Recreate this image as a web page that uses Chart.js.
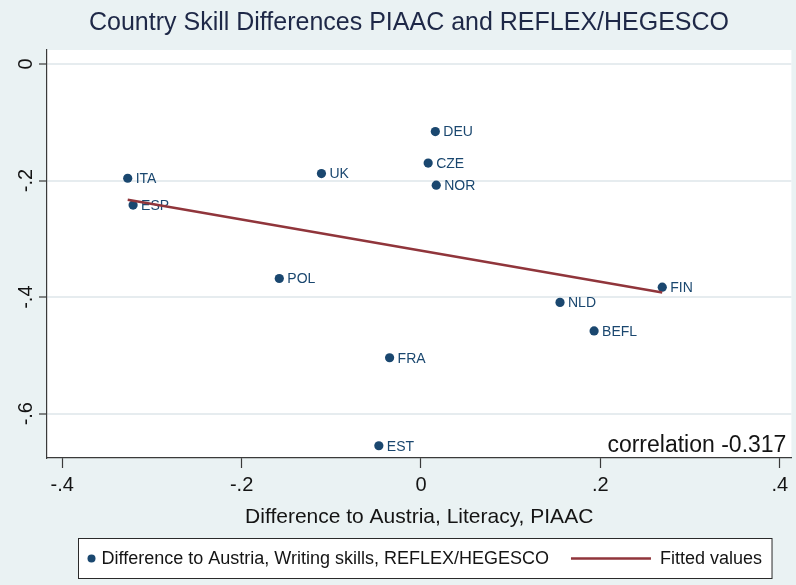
<!DOCTYPE html>
<html>
<head>
<meta charset="utf-8">
<title>Country Skill Differences PIAAC and REFLEX/HEGESCO</title>
<script src="https://cdn.jsdelivr.net/npm/chart.js@4.4.1/dist/chart.umd.min.js"></script>
<style>
  html, body { margin: 0; padding: 0; background: #EAF2F3; }
  canvas { display: block; }
</style>
</head>
<body>
<canvas id="chart" width="796" height="585"></canvas>
<script>
// Country codes and their skill differences relative to Austria
const countries    = ['ITA', 'ESP', 'UK', 'POL', 'DEU', 'CZE', 'NOR', 'FIN', 'NLD', 'BEFL', 'FRA', 'EST'];
const literacyDiff = [-0.327, -0.321, -0.111, -0.158, 0.016, 0.008, 0.017, 0.269, 0.155, 0.193, -0.035, -0.047];
const writingDiff  = [-0.196, -0.242, -0.188, -0.368, -0.116, -0.170, -0.208, -0.383, -0.409, -0.458, -0.504, -0.655];

// Linear fit, evaluated at the smallest and largest literacy difference
const fittedX = [-0.327, 0.269];
const fittedY = [-0.233, -0.392];
const correlation = -0.317;

// Axis ticks
const xTickValues = [-0.4, -0.2, 0, 0.2, 0.4];
const xTickLabels = ['-.4', '-.2', '0', '.2', '.4'];
const yTickValues = [0, -0.2, -0.4, -0.6];
const yTickLabels = ['0', '-.2', '-.4', '-.6'];

const FONT   = "'Liberation Sans', Arial, Helvetica, sans-serif";
const NAVY   = '#1A476F';
const MAROON = '#90353B';
const TITLE  = '#1E2847';
const AXIS   = '#3A3A3A';
const GRID   = '#E6ECEF';
const BG     = '#EAF2F3';
const TEXT   = '#141414';

// Light outer background with a white plot region
const backgroundPlugin = {
  id: 'stataBackground',
  beforeDraw(chart) {
    const { ctx, chartArea: a } = chart;
    ctx.save();
    ctx.fillStyle = BG;
    ctx.fillRect(0, 0, chart.width, chart.height);
    ctx.fillStyle = '#FFFFFF';
    ctx.fillRect(a.left, a.top, a.right - a.left, a.bottom - a.top);
    ctx.restore();
  }
};

// Country code written to the right of each marker
const markerLabelPlugin = {
  id: 'markerLabels',
  afterDatasetDraw(chart, args) {
    if (args.index !== 0) return;
    const { ctx } = chart;
    ctx.save();
    ctx.font = '14px ' + FONT;
    ctx.fillStyle = NAVY;
    ctx.textAlign = 'left';
    ctx.textBaseline = 'middle';
    args.meta.data.forEach((pt, i) => {
      ctx.fillText(countries[i], pt.x + 8, pt.y + 1);
    });
    ctx.restore();
  }
};

// Correlation note and the boxed legend below the axis title
const notesPlugin = {
  id: 'notes',
  afterDraw(chart) {
    const { ctx, chartArea: a } = chart;
    ctx.save();

    ctx.font = '23px ' + FONT;
    ctx.fillStyle = TEXT;
    ctx.textAlign = 'right';
    ctx.textBaseline = 'alphabetic';
    ctx.fillText('correlation ' + correlation.toFixed(3), a.right - 5, 452);

    const ds = chart.data.datasets;
    ctx.font = '18px ' + FONT;
    const w1 = ctx.measureText(ds[0].label).width;
    const w2 = ctx.measureText(ds[1].label).width;
    const padL = 9, dotW = 8, gap1 = 6, gapMid = 22, lineW = 80, gap2 = 9, padR = 10;
    const boxW = padL + dotW + gap1 + w1 + gapMid + lineW + gap2 + w2 + padR;
    const boxH = 40;
    const cx = (a.left + a.right) / 2 + 6;
    const left = Math.round(cx - boxW / 2) + 0.5;
    const top = a.bottom + 80 + 0.5;
    const midY = top + boxH / 2;

    ctx.fillStyle = '#FFFFFF';
    ctx.fillRect(left, top, boxW, boxH);
    ctx.strokeStyle = '#2A2A2A';
    ctx.lineWidth = 1;
    ctx.strokeRect(left, top, boxW, boxH);

    let x = left + padL;
    ctx.fillStyle = NAVY;
    ctx.beginPath();
    ctx.arc(x + dotW / 2, midY, 4, 0, Math.PI * 2);
    ctx.fill();
    x += dotW + gap1;

    ctx.fillStyle = TEXT;
    ctx.textAlign = 'left';
    ctx.textBaseline = 'middle';
    ctx.fillText(ds[0].label, x, midY + 1);
    x += w1 + gapMid;

    ctx.strokeStyle = MAROON;
    ctx.lineWidth = 2.5;
    ctx.beginPath();
    ctx.moveTo(x, midY);
    ctx.lineTo(x + lineW, midY);
    ctx.stroke();
    x += lineW + gap2;

    ctx.fillStyle = TEXT;
    ctx.fillText(ds[1].label, x, midY + 1);
    ctx.restore();
  }
};

new Chart(document.getElementById('chart'), {
  type: 'scatter',
  data: {
    datasets: [
      {
        label: 'Difference to Austria, Writing skills, REFLEX/HEGESCO',
        data: literacyDiff.map((x, i) => ({ x: x, y: writingDiff[i] })),
        backgroundColor: NAVY,
        borderColor: NAVY,
        borderWidth: 0,
        pointRadius: 4.6,
        pointHoverRadius: 4.6,
        showLine: false,
        order: 2
      },
      {
        type: 'line',
        label: 'Fitted values',
        data: fittedX.map((x, i) => ({ x: x, y: fittedY[i] })),
        borderColor: MAROON,
        borderWidth: 2.5,
        pointRadius: 0,
        fill: false,
        order: 1
      }
    ]
  },
  options: {
    responsive: false,
    animation: false,
    devicePixelRatio: 1,
    events: [],
    layout: { padding: { left: 24, right: 2, top: 0, bottom: 47 } },
    plugins: {
      legend: { display: false },
      tooltip: { enabled: false },
      title: {
        display: true,
        text: 'Country Skill Differences PIAAC and REFLEX/HEGESCO',
        color: TITLE,
        font: { family: FONT, size: 25, weight: 'normal' },
        padding: { top: 8, bottom: 12 }
      }
    },
    scales: {
      x: {
        type: 'linear',
        min: -0.417,
        max: 0.413,
        afterBuildTicks: (s) => { s.ticks = xTickValues.map(v => ({ value: v })); },
        afterFit: (s) => { s.height = 80; },
        grid: { drawOnChartArea: false, drawTicks: true, tickLength: 10, tickColor: AXIS, tickWidth: 1.2 },
        border: { color: AXIS, width: 1.2 },
        ticks: {
          autoSkip: false, minRotation: 0, maxRotation: 0, padding: 5,
          color: TEXT, font: { family: FONT, size: 20 },
          callback: (v, i) => xTickLabels[i]
        },
        title: {
          display: true,
          text: 'Difference to Austria, Literacy, PIAAC',
          color: TEXT,
          font: { family: FONT, size: 21 },
          padding: { top: 0, bottom: 8 }
        }
      },
      y: {
        type: 'linear',
        min: -0.676,
        max: 0.024,
        afterBuildTicks: (s) => { s.ticks = yTickValues.map(v => ({ value: v })); },
        afterFit: (s) => {
          s.width = 23;
          // rotated labels reach into the left margin, so do not clip them to the axis box
          s._computeLabelArea = () => undefined;
        },
        grid: { color: GRID, lineWidth: 2, drawTicks: true, tickLength: 8, tickColor: AXIS, tickWidth: 1.2 },
        border: { color: AXIS, width: 1.2 },
        ticks: {
          autoSkip: false, minRotation: 90, maxRotation: 90, crossAlign: 'center', padding: 1,
          color: TEXT, font: { family: FONT, size: 20 },
          callback: (v, i) => yTickLabels[i]
        }
      }
    }
  },
  plugins: [backgroundPlugin, markerLabelPlugin, notesPlugin]
});
</script>
</body>
</html>
